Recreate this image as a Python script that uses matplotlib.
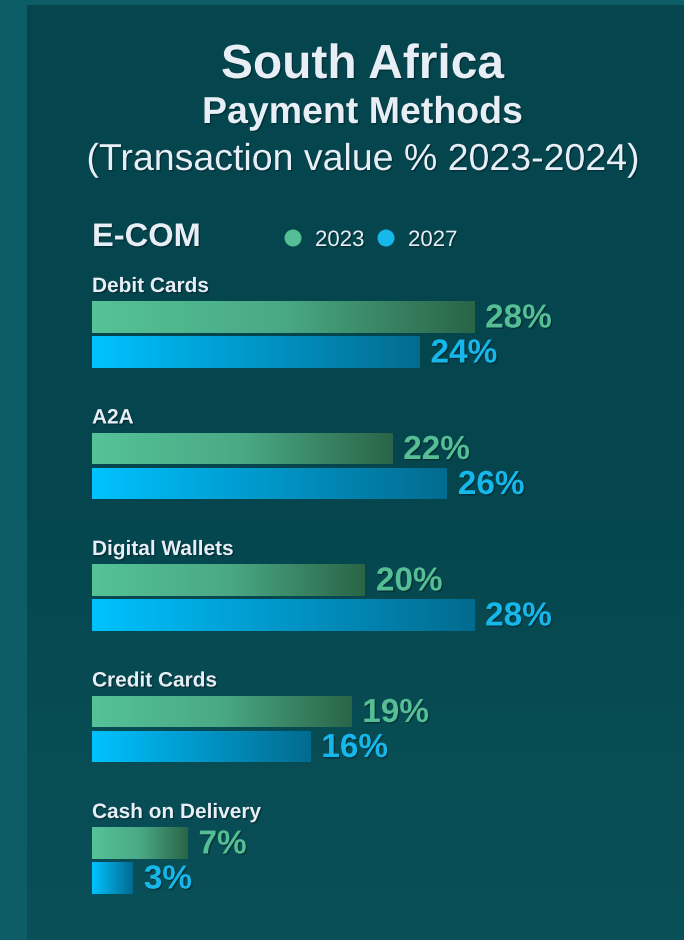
import numpy as np
import matplotlib.pyplot as plt
import matplotlib.patheffects as pe
from matplotlib.colors import LinearSegmentedColormap
from matplotlib.patches import Ellipse

plt.rcParams['font.family'] = ['Liberation Sans', 'DejaVu Sans']

########### Data ###########

categories = ['Debit Cards', 'A2A', 'Digital Wallets', 'Credit Cards', 'Cash on Delivery']
vals_2023 = [28, 22, 20, 19, 7]
vals_2027 = [24, 26, 28, 16, 3]
series_names = ['2023', '2027']

########### Styles ###########

W, H = 684, 940
bg_top = '#05464e'
bg_bot = '#0a5058'
strip = '#0d5d66'
white = '#e8eef6'
green = '#55be94'
blue = '#16b8ec'

cmap_green = LinearSegmentedColormap.from_list('g', ['#55c297', '#4aa985', '#2a6547'])
cmap_blue = LinearSegmentedColormap.from_list('b', ['#00c2ff', '#0096c8', '#036b8f'])

shadow = [pe.withSimplePatchShadow(offset=(1, -1), shadow_rgbFace='black', alpha=0.3)]

fig = plt.figure(figsize=(W / 100, H / 100), dpi=100)
fig.patch.set_facecolor(strip)

# background panel
bg = fig.add_axes([27 / W, 0, 1 - 27 / W, 1 - 5 / H])
grad = np.linspace(0, 1, 256).reshape(-1, 1)
bg.imshow(grad, aspect='auto', extent=[0, 1, 0, 1],
          cmap=LinearSegmentedColormap.from_list('bg', [bg_bot, bg_top, bg_top]),
          origin='lower')
bg.set_axis_off()

# titles
def ty(px):
    return 1 - px / H

fig.text(0.53, ty(78), 'South Africa', ha='center', va='baseline', fontsize=34.5,
         fontweight='bold', color=white, path_effects=shadow)
fig.text(0.53, ty(123), 'Payment Methods', ha='center', va='baseline', fontsize=27,
         fontweight='bold', color=white, path_effects=shadow)
fig.text(0.531, ty(170), '(Transaction value % 2023-2024)', ha='center', va='baseline',
         fontsize=27, color=white, path_effects=shadow)
fig.text(92 / W, ty(246), 'E-COM', ha='left', va='baseline', fontsize=23.5,
         fontweight='bold', color=white, path_effects=shadow)

# legend
for cx, tx, col, name in [(293, 315, green, series_names[0]), (386, 408, blue, series_names[1])]:
    fig.patches.append(Ellipse((cx / W, ty(238)), 17 / W, 17 / H, transform=fig.transFigure,
                               facecolor=col, edgecolor='none'))
    fig.text(tx / W, ty(246), name, ha='left', va='baseline', fontsize=16,
             color=white, path_effects=shadow)

########### Bars ###########

px_per_pct = 13.65
ax = fig.add_axes([92 / W, 0, 1 - 92 / W, ty(250)])
step = 131.5
top_off = (334.5 - 250) / step
ax.patch.set_alpha(0)
ax.set_axis_off()

bh = 32 / step
off = 17.5 / step
y = np.arange(len(categories))

bars_g = ax.barh(y - off, vals_2023, height=bh, color='none')
bars_b = ax.barh(y + off, vals_2027, height=bh, color='none')

gx = np.linspace(0, 1, 256).reshape(1, -1)
for bars, cm in [(bars_g, cmap_green), (bars_b, cmap_blue)]:
    for b in bars:
        x0, y0 = b.get_x(), b.get_y()
        w, h = b.get_width(), b.get_height()
        im = ax.imshow(gx, cmap=cm, aspect='auto', extent=[x0, x0 + w, y0 + h, y0],
                       interpolation='bicubic', zorder=2)
        im.set_clip_path(b)

ax.set_xlim(0, (W - 92) / px_per_pct)
ax.set_ylim((H - 250) / step - top_off, -top_off)

for i, cat in enumerate(categories):
    ax.text(0, i - 48 / step, cat, ha='left', va='center', fontsize=15,
            fontweight='bold', color=white, path_effects=shadow)
    ax.text(vals_2023[i] + 0.8, i - off + 2 / step, f'{vals_2023[i]}%', ha='left', va='center',
            fontsize=24, fontweight='bold', color=green, path_effects=shadow)
    ax.text(vals_2027[i] + 0.8, i + off + 2 / step, f'{vals_2027[i]}%', ha='left', va='center',
            fontsize=24, fontweight='bold', color=blue, path_effects=shadow)

fig.savefig('out.png', dpi=100, facecolor=fig.get_facecolor())
